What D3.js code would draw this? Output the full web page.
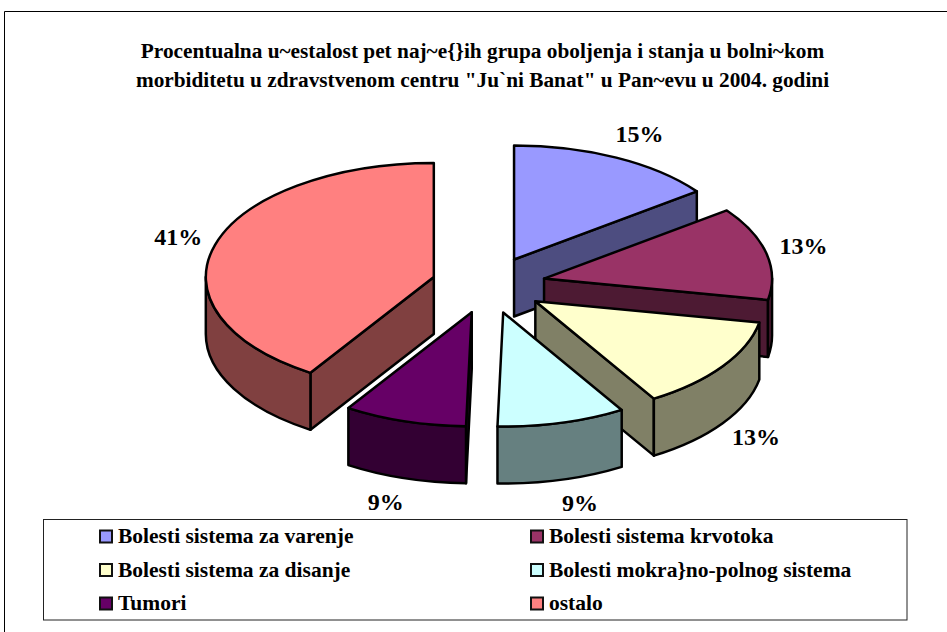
<!DOCTYPE html>
<html>
<head>
<meta charset="utf-8">
<script src="https://cdn.jsdelivr.net/npm/d3@7"></script>
<style>
  body { margin: 0; background: #fff; }
  svg { display: block; font-family: "Liberation Serif", serif; }
</style>
</head>
<body>
<script>
const titleLines = [
  "Procentualna u~estalost pet naj~e{}ih grupa oboljenja i stanja u bolni~kom",
  "morbiditetu u zdravstvenom centru \"Ju`ni Banat\" u Pan~evu u 2004. godini"
];
const categories = [
  "Bolesti sistema za varenje",
  "Bolesti sistema krvotoka",
  "Bolesti sistema za disanje",
  "Bolesti mokra}no-polnog sistema",
  "Tumori",
  "ostalo"
];
const values = [14.8, 13.2, 13.3, 9.1, 8.7, 40.9];
const colors = ["#9999FF", "#993366", "#FFFFCC", "#CCFFFF", "#660066", "#FF8080"];

let width = 947, height = 632;
let cx = 488.5, cy = 285;   // pie centre before the slices are pulled out
let rx = 228, ry = 114;     // tilted pie ellipse
let depth = 57;
let explode = 0.25;

let svg = d3.select("body").append("svg")
  .attr("width", width)
  .attr("height", height);

// chart frame runs off the page on the right and bottom
svg.append("path")
  .attr("d", "M4.5," + height + "V11.5H" + width)
  .attr("fill", "none")
  .attr("stroke", "#000")
  .attr("stroke-width", 1);

svg.selectAll("text.title")
  .data(titleLines)
  .enter()
  .append("text")
  .attr("class", "title")
  .attr("x", 482.5)
  .attr("y", function(d, i){ return 58 + i * 29; })
  .attr("text-anchor", "middle")
  .attr("font-size", 21.3)
  .attr("font-weight", "bold")
  .text(function(d){ return d; });

let pie = d3.pie().sort(null).value(function(d){ return d; });
let slices = pie(values);
const halfPi = Math.PI / 2;

// angle is clockwise from 12 o'clock, same as d3.pie
function onRim(s, t){
  return [s.apexX + rx * Math.sin(t), s.apexY - ry * Math.cos(t)];
}

slices.forEach(function(s){
  let mid = (s.startAngle + s.endAngle) / 2;
  s.mid = mid;
  s.apexX = cx + explode * rx * Math.sin(mid);
  s.apexY = cy - explode * ry * Math.cos(mid);
});

function topFace(s){
  let a = onRim(s, s.startAngle), b = onRim(s, s.endAngle);
  let large = s.endAngle - s.startAngle > Math.PI ? 1 : 0;
  return "M" + s.apexX + "," + s.apexY + "L" + a +
    "A" + rx + "," + ry + " 0 " + large + " 1 " + b + "Z";
}

function cutWall(s, t){
  let p = onRim(s, t);
  return "M" + s.apexX + "," + s.apexY + "L" + p +
    "V" + (p[1] + depth) + "L" + s.apexX + "," + (s.apexY + depth) + "Z";
}

function rimWall(s){
  let t0 = Math.max(s.startAngle, halfPi);
  let t1 = Math.min(s.endAngle, 3 * halfPi);
  if (t1 <= t0) return null;
  let a = onRim(s, t0), b = onRim(s, t1);
  return "M" + a + "A" + rx + "," + ry + " 0 0 1 " + b +
    "V" + (b[1] + depth) +
    "A" + rx + "," + ry + " 0 0 0 " + a[0] + "," + (a[1] + depth) + "Z";
}

let groups = svg.selectAll("g.slice")
  .data(slices)
  .enter()
  .append("g")
  .attr("class", "slice")
  .attr("stroke", "#000")
  .attr("stroke-width", 2.5)
  .attr("stroke-linejoin", "round");

function shade(c){
  let r = d3.rgb(c);
  return d3.rgb(r.r * 0.5, r.g * 0.5, r.b * 0.5).formatHex();
}

groups.each(function(s, i){
  let g = d3.select(this);
  let side = shade(colors[i]);
  // a cut face only shows when it turns towards the viewer
  if (Math.sin(s.startAngle) < -1e-6) g.append("path").attr("d", cutWall(s, s.startAngle)).attr("fill", side);
  if (Math.sin(s.endAngle) > 1e-6) g.append("path").attr("d", cutWall(s, s.endAngle)).attr("fill", side);
  let rim = rimWall(s);
  if (rim) g.append("path").attr("d", rim).attr("fill", side);
  g.append("path").attr("d", topFace(s)).attr("fill", colors[i]);
});

svg.selectAll("text.pct")
  .data(slices)
  .enter()
  .append("text")
  .attr("class", "pct")
  .attr("x", function(d){
    let sn = Math.sin(d.mid);
    return cx + 312 * sn + (sn < 0 ? -11 : 11);
  })
  .attr("y", function(d){
    let cs = Math.cos(d.mid);
    return cy - 168 * cs + (cs < 0 ? depth : 0) + 7;
  })
  .attr("text-anchor", "middle")
  .attr("font-size", 24)
  .attr("font-weight", "bold")
  .text(function(d){ return Math.round(d.value) + "%"; });

// legend
svg.append("rect")
  .attr("x", 43.5).attr("y", 519.5)
  .attr("width", 863.5).attr("height", 100.5)
  .attr("fill", "#fff")
  .attr("stroke", "#222");

let legendX = d3.scalePoint().domain([0, 1]).range([99, 530]);
let legendY = d3.scalePoint().domain([0, 1, 2]).range([536.5, 603.5]);

let items = svg.selectAll("g.legend")
  .data(categories)
  .enter()
  .append("g")
  .attr("class", "legend")
  .attr("transform", function(d, i){
    return "translate(" + legendX(i % 2) + "," + legendY(Math.floor(i / 2)) + ")";
  });

items.append("rect")
  .attr("x", 1).attr("y", -6)
  .attr("width", 12).attr("height", 12)
  .attr("fill", function(d, i){ return colors[i]; })
  .attr("stroke", "#111")
  .attr("stroke-width", 2);

items.append("text")
  .attr("x", 19).attr("y", 6.5)
  .attr("font-size", 21.5)
  .attr("font-weight", "bold")
  .text(function(d){ return d; });
</script>
</body>
</html>
